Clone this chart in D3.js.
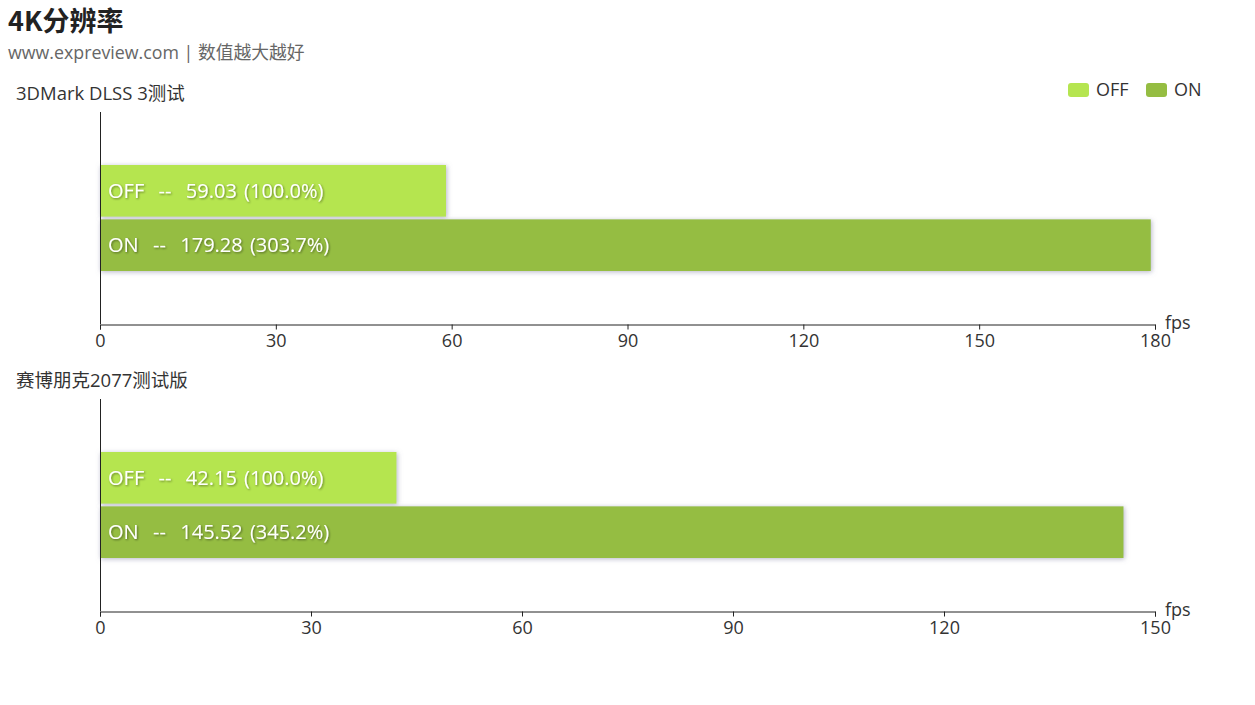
<!DOCTYPE html>
<html><head><meta charset="utf-8">
<script src="https://cdn.jsdelivr.net/npm/d3@7/dist/d3.min.js"></script>
<style>
body{margin:0;background:#fff;}
svg{font-family:"Segoe UI","Open Sans","Noto Sans CJK SC",sans-serif;}
</style></head>
<body><svg id="c" width="1255" height="705"></svg>
<script>
const title = "4K分辨率";
const subtitle = "www.expreview.com | 数值越大越好";
const series = ["OFF", "ON"];
const colors = ["#b5e550", "#95bd42"];
const chartTitles = ["3DMark DLSS 3测试", "赛博朋克2077测试版"];
const valuesOff = [59.03, 42.15];
const valuesOn = [179.28, 145.52];
const axisMax = [180, 150];
const axisTicks = [[0, 30, 60, 90, 120, 150, 180], [0, 30, 60, 90, 120, 150]];
const unit = "fps";

const svg = d3.select("#c");
const defs = svg.append("defs");
const sh = defs.append("filter").attr("id","barShadow").attr("x","-5%").attr("y","-20%").attr("width","110%").attr("height","140%");
sh.append("feDropShadow").attr("dx",1).attr("dy",1).attr("stdDeviation",2.5).attr("flood-color","#7a7a9a").attr("flood-opacity",0.55);
const ts = defs.append("filter").attr("id","txtShadow").attr("x","-10%").attr("y","-30%").attr("width","120%").attr("height","160%");
ts.append("feDropShadow").attr("dx",1).attr("dy",1).attr("stdDeviation",1).attr("flood-color","#000").attr("flood-opacity",0.45);

svg.append("text").attr("x",8).attr("y",31).attr("font-size",27).attr("font-weight","bold").attr("fill","#222")
  .attr("font-family","'Noto Sans CJK SC',sans-serif").text(title);
svg.append("text").attr("x",8).attr("y",59).attr("font-size",17.8).attr("fill","#666").text(subtitle);

// legend
const lg = svg.append("g");
const legendX = [1068, 1146];
series.forEach((s,i)=>{
  lg.append("rect").attr("x",legendX[i]).attr("y",83).attr("width",21).attr("height",14).attr("rx",3).attr("fill",colors[i]);
  lg.append("text").attr("x",legendX[i]+28).attr("y",96).attr("font-size",18).attr("fill","#333").text(s);
});

const left = 100, right = 1155;
const tops = [112, 399];
const gridH = 212;

chartTitles.forEach((ct, k)=>{
  const top = tops[k], bottom = top + gridH;
  const g = svg.append("g");
  g.append("text").attr("x",16).attr("y",top-12).attr("font-size",18.5).attr("fill","#333").text(ct);
  const x = d3.scaleLinear().domain([0, axisMax[k]]).range([left, right]);
  const mid = (top+bottom)/2;
  const y = d3.scaleBand().domain(series).range([mid-53, mid+53]).paddingInner(0.05);
  const vals = [valuesOff[k], valuesOn[k]];
  series.forEach((s,i)=>{
    g.append("rect").attr("x",x(0)).attr("y",y(s)).attr("width",x(vals[i])-x(0)).attr("height",y.bandwidth())
      .attr("fill",colors[i]).attr("filter","url(#barShadow)");
  });
  g.append("line").attr("x1",left+0.5).attr("x2",left+0.5).attr("y1",top).attr("y2",bottom).attr("stroke","#222").attr("stroke-width",1);
  const ax = g.append("g").attr("transform",`translate(0,${bottom+0.5})`)
    .call(d3.axisBottom(x).tickValues(axisTicks[k]).tickSize(5).tickPadding(5).tickFormat(d3.format("d")));
  ax.select(".domain").attr("stroke","#222");
  ax.selectAll(".tick line").attr("stroke","#222");
  ax.selectAll(".tick text").attr("font-size",18).attr("fill","#333").attr("font-family","'Segoe UI','Open Sans',sans-serif");
  g.append("text").attr("x",right+10).attr("y",bottom+5).attr("font-size",18).attr("fill","#333").text(unit);
  series.forEach((s,i)=>{
    const pct = (vals[i]/vals[0]*100).toFixed(1);
    g.append("text").attr("x",x(0)+8).attr("y",y(s)+y.bandwidth()/2).attr("dy","0.36em")
      .attr("font-size",20).attr("fill","#fff").attr("filter","url(#txtShadow)")
      .attr("word-spacing",2)
      .text(`${s}  --  ${vals[i].toFixed(2)} (${pct}%)`).attr("xml:space","preserve").style("white-space","pre");
  });
});
</script></body></html>
